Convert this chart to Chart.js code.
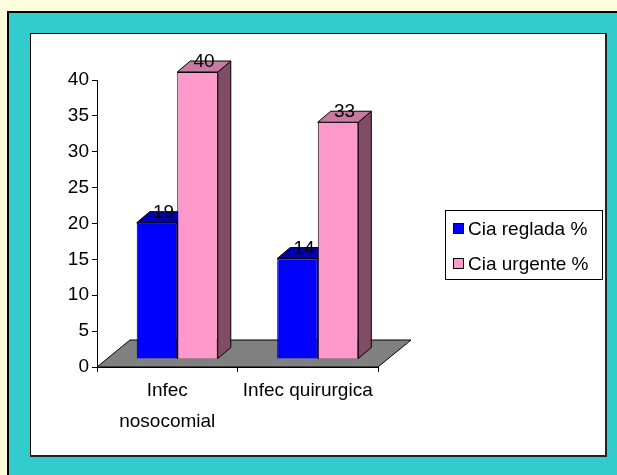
<!DOCTYPE html>
<html>
<head>
<meta charset="utf-8">
<script src="https://cdn.jsdelivr.net/npm/chart.js@4/dist/chart.umd.min.js"></script>
<style>
  html, body { margin: 0; padding: 0; width: 617px; height: 475px; overflow: hidden; background: #FFFFDD; }
  #frame { position: absolute; left: 7px; top: 11px; width: 700px; height: 600px; background: #33CCCC;
           border-left: 2px solid #000; border-top: 2px solid #000; box-sizing: border-box; }
  #panel { position: absolute; left: 30px; top: 33px; width: 577px; height: 424px; background: #fff;
           border-left: 1px solid #000; border-top: 1px solid #000; border-right: 2px solid #222; border-bottom: 2px solid #222;
           box-sizing: border-box; }
  #chart { position: absolute; left: 0; top: 0; }
</style>
</head>
<body>
<div id="frame"></div>
<div id="panel"><canvas id="chart" width="574" height="421"></canvas></div>
<script>
// Categories, series and axis ticks
const categories = [['Infec', 'nosocomial'], 'Infec quirurgica'];
const seriesNames = ['Cia reglada %', 'Cia urgente %'];
const reglada = [19, 14];
const urgente = [40, 33];
const yTicks = [0, 5, 10, 15, 20, 25, 30, 35, 40];

const FONT = 'Liberation Sans, Arial, sans-serif';
const FONT_SIZE = 19;

// Colours of front / top / side faces per series
const faceColors = [
  { front: '#0000FF', top: '#0000B0', side: '#000080' },
  { front: '#FF99CC', top: '#C87AA0', side: '#804C66' }
];

// Depth of the floor and of each bar, and where bars sit inside the floor depth
const FLOOR_DX = 33, FLOOR_DY = -27;
const BAR_DX = 13, BAR_DY = -11;
const SHIFT_X = 10, SHIFT_Y = -8;

function polygon(ctx, pts, fill) {
  ctx.beginPath();
  ctx.moveTo(pts[0][0], pts[0][1]);
  for (let i = 1; i < pts.length; i++) ctx.lineTo(pts[i][0], pts[i][1]);
  ctx.closePath();
  ctx.fillStyle = fill;
  ctx.fill();
  ctx.lineWidth = 1;
  ctx.strokeStyle = '#000';
  ctx.stroke();
}

const bars3d = {
  id: 'bars3d',
  beforeDatasetsDraw(chart) {
    const { ctx, chartArea: a } = chart;
    // floor
    polygon(ctx, [
      [a.left, a.bottom], [a.right, a.bottom],
      [a.right + FLOOR_DX, a.bottom + FLOOR_DY], [a.left + FLOOR_DX, a.bottom + FLOOR_DY]
    ], '#808080');
    ctx.save();
    ctx.translate(SHIFT_X, SHIFT_Y);
    // top and side faces, behind the front faces
    chart.data.datasets.forEach((ds, di) => {
      const meta = chart.getDatasetMeta(di);
      meta.data.forEach(el => {
        const { x, y, base, width } = el.getProps(['x', 'y', 'base', 'width'], true);
        const l = x - width / 2, r = x + width / 2;
        polygon(ctx, [[r, y], [r + BAR_DX, y + BAR_DY], [r + BAR_DX, base + BAR_DY], [r, base]], faceColors[di].side);
        polygon(ctx, [[l, y], [l + BAR_DX, y + BAR_DY], [r + BAR_DX, y + BAR_DY], [r, y]], faceColors[di].top);
      });
    });
  },
  afterDatasetsDraw(chart) {
    const { ctx } = chart;
    // value labels on the bar tops
    ctx.font = FONT_SIZE + 'px ' + FONT;
    ctx.fillStyle = '#000';
    ctx.textAlign = 'center';
    ctx.textBaseline = 'middle';
    chart.data.datasets.forEach((ds, di) => {
      const meta = chart.getDatasetMeta(di);
      meta.data.forEach((el, i) => {
        const { x, y } = el.getProps(['x', 'y'], true);
        ctx.fillText(String(ds.data[i]), x + BAR_DX / 2, y + BAR_DY + 1);
      });
    });
    ctx.restore();
  },
  afterDraw(chart) {
    const { ctx } = chart;
    // legend box
    const bx = 414, by = 176, bw = 157, bh = 69;
    ctx.save();
    ctx.fillStyle = '#fff';
    ctx.fillRect(bx, by, bw, bh);
    ctx.lineWidth = 1;
    ctx.strokeStyle = '#000';
    ctx.strokeRect(bx + 0.5, by + 0.5, bw, bh);
    ctx.font = FONT_SIZE + 'px ' + FONT;
    ctx.textAlign = 'left';
    ctx.textBaseline = 'middle';
    chart.data.datasets.forEach((ds, di) => {
      const cy = 195 + di * 35;
      ctx.fillStyle = ds.backgroundColor;
      ctx.fillRect(422, cy - 5, 10, 10);
      ctx.strokeRect(422.5, cy - 5.5, 10, 10);
      ctx.fillStyle = '#000';
      ctx.fillText(ds.label, 437, cy + 1);
    });
    ctx.restore();
  }
};

new Chart(document.getElementById('chart'), {
  type: 'bar',
  data: {
    labels: categories,
    datasets: [
      { label: seriesNames[0], data: reglada, backgroundColor: faceColors[0].front, borderColor: '#000', borderWidth: 1, clip: false },
      { label: seriesNames[1], data: urgente, backgroundColor: faceColors[1].front, borderColor: '#000', borderWidth: 1, clip: false }
    ]
  },
  options: {
    responsive: false,
    animation: false,
    events: [],
    categoryPercentage: 0.577,
    barPercentage: 1,
    layout: { padding: { top: 46, right: 227, bottom: 0, left: 0 } },
    plugins: { legend: { display: false }, tooltip: { enabled: false } },
    scales: {
      x: {
        grid: { display: true, drawOnChartArea: false, color: '#000', tickLength: 5 },
        border: { display: true, color: '#000' },
        ticks: { color: '#000', font: { family: FONT, size: FONT_SIZE, lineHeight: 1.6 }, padding: 4, maxRotation: 0, autoSkip: false },
        afterFit(s) { s.height = 88; }
      },
      y: {
        min: 0, max: 40,
        grid: { display: true, drawOnChartArea: false, color: '#000', tickLength: 5 },
        border: { display: true, color: '#000' },
        afterBuildTicks(s) { s.ticks = yTicks.map(v => ({ value: v })); },
        ticks: { color: '#000', font: { family: FONT, size: FONT_SIZE }, padding: 3 },
        afterFit(s) { s.width = 66; }
      }
    }
  },
  plugins: [bars3d]
});
</script>
</body>
</html>
